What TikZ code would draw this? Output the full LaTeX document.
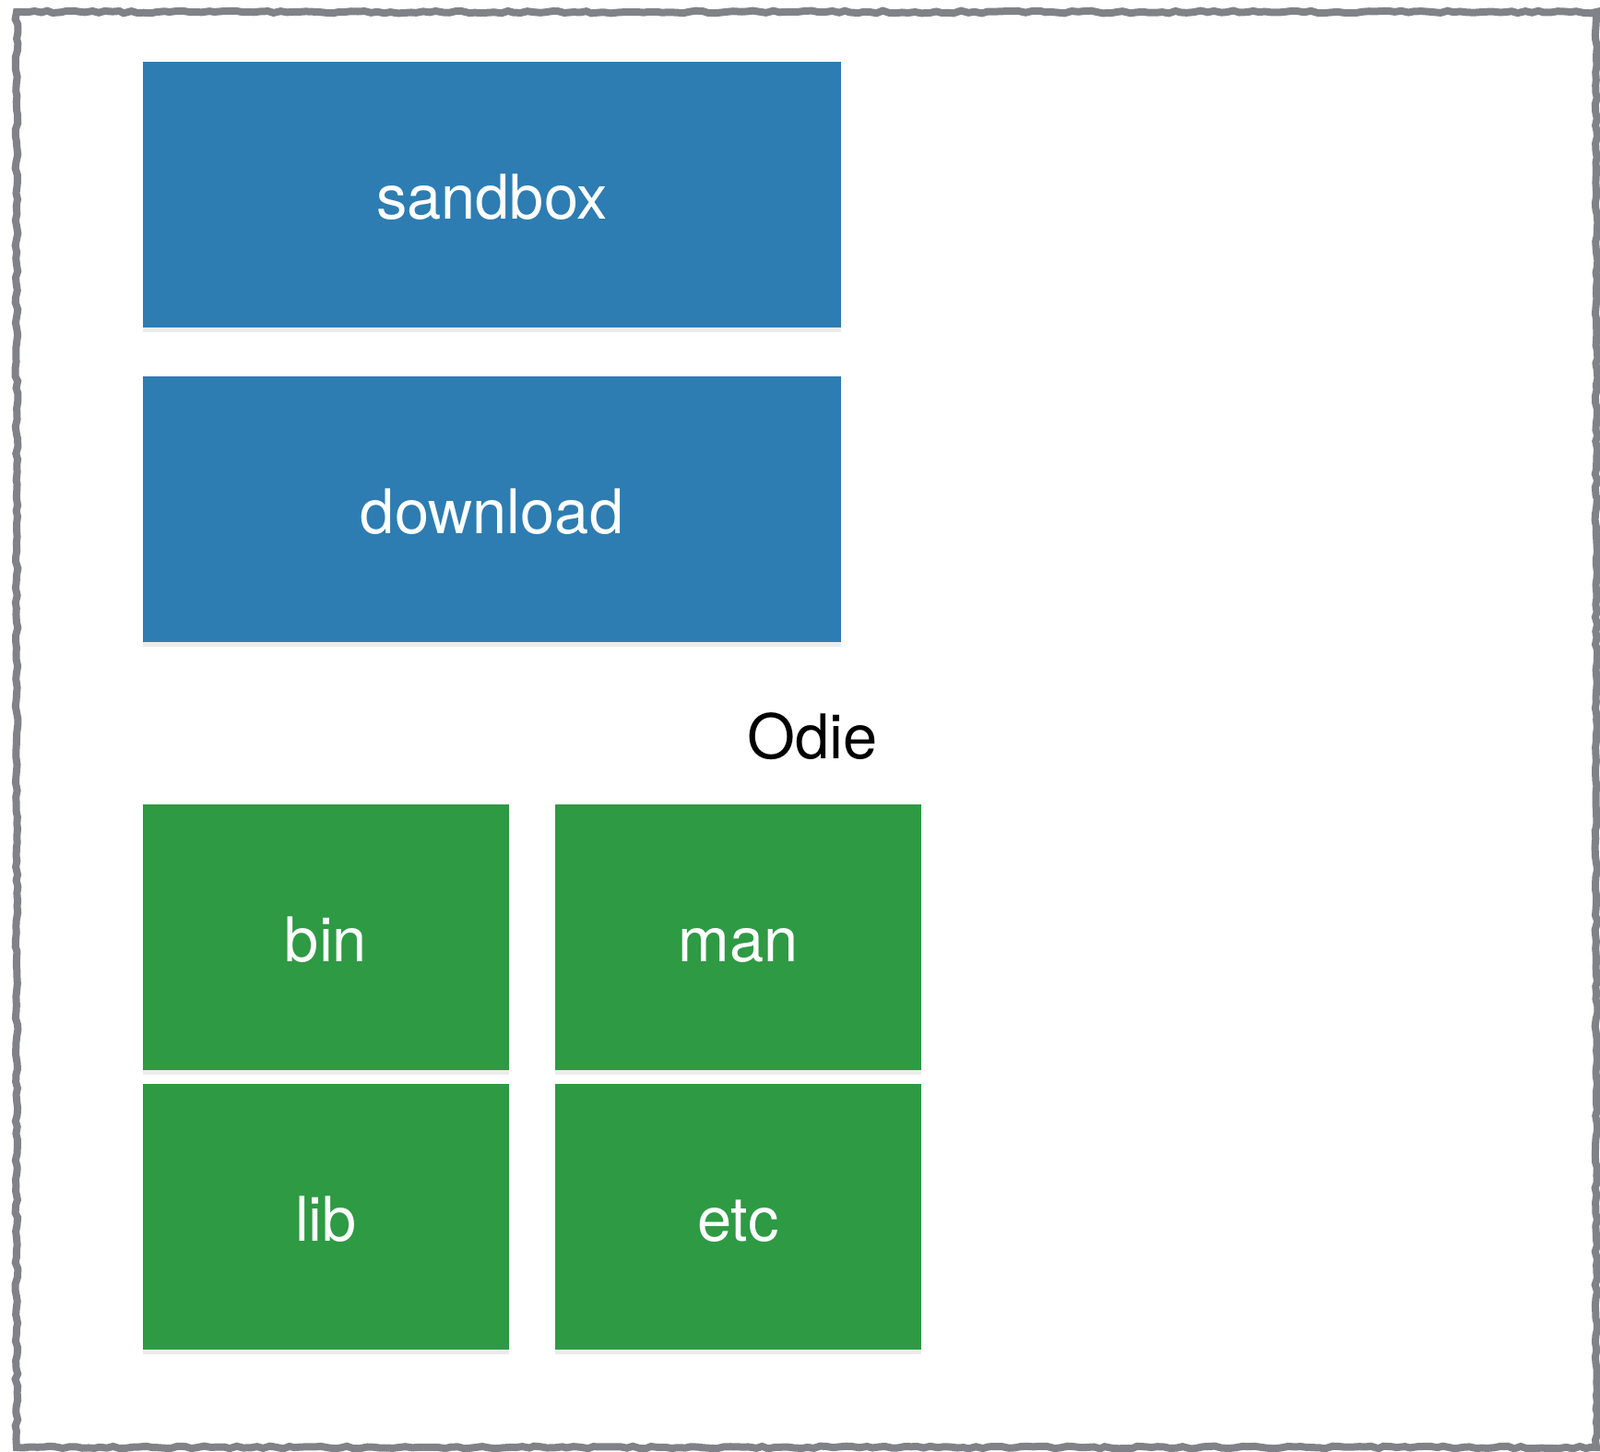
\documentclass[tikz,border=0pt]{standalone}
\usepackage{fontspec}
\setmainfont{TeX Gyre Heros}
\usetikzlibrary{shadows,decorations.pathmorphing}
\definecolor{dirblue}{RGB}{45,125,178}
\definecolor{dirgreen}{RGB}{46,154,68}
\definecolor{framegray}{RGB}{128,130,135}
\tikzset{
  dirbox/.style={rectangle, inner sep=0pt, text=white,
    font=\fontsize{19}{22}\selectfont, text height=0.53cm, text depth=0pt,
    drop shadow={shadow xshift=0pt, shadow yshift=-1.5pt, opacity=0.15}},
  topdir/.style={dirbox, fill=dirblue, minimum width=7.57cm, minimum height=2.88cm},
  subdir/.style={dirbox, fill=dirgreen, minimum width=3.97cm, minimum height=2.88cm},
}
\begin{document}
\begin{tikzpicture}
                \useasboundingbox (0,0) rectangle (17.35,-15.74);
                
                % Drawing rough frame
                \draw [framegray, line width=0.08cm, decorate,
                       decoration={random steps, segment length=2pt, amplitude=0.4pt}]
                      (0.18,-0.13) rectangle (17.31,-15.69);%
                
                % Boxes sandbox and download
                \node [topdir] (sandbox) at (5.335,-2.11) {sandbox};%
                \node [topdir] (download) at (5.335,-5.52) {download};%
                
                % Label Odie
                \node [font=\fontsize{19}{22}\selectfont] (odie) at (8.81,-7.98) {Odie};%
                
                % Boxes bin, man, lib, etc
                \node [subdir] (bin) at (3.535,-10.16) {bin};%
                \node [subdir] (man) at (8.005,-10.16) {man};%
                \node [subdir] (lib) at (3.535,-13.19) {lib};%
                \node [subdir] (etc) at (8.005,-13.19) {etc};%
\end{tikzpicture}
\end{document}
